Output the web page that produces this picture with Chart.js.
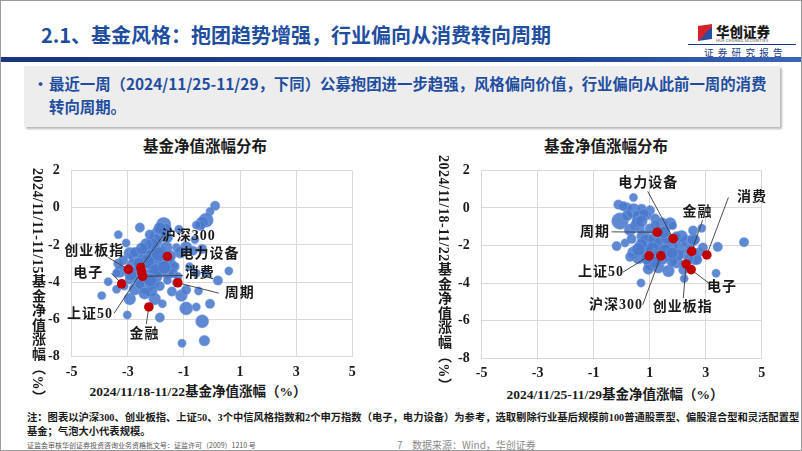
<!DOCTYPE html>
<html><head><meta charset="utf-8">
<script src="https://cdn.jsdelivr.net/npm/chart.js@4/dist/chart.umd.min.js"></script>
<style>
body{margin:0;width:802px;height:451px;overflow:hidden;background:#fff;font-family:"Noto Sans CJK SC",sans-serif;position:relative;}
.abs{position:absolute;white-space:nowrap;}
#frame{position:absolute;left:0;top:0;width:800px;height:449px;border:1px solid #9a9a9a;}
#title{left:41px;top:21px;font-size:20px;font-weight:700;color:#1f4e9f;line-height:28px;}
#band{left:1px;top:57px;width:800px;height:5px;background:linear-gradient(to right,#18357d,#1f4593 70%,#3a66b8);}
#box{left:24px;top:66px;width:756px;height:61px;background:#ededed;box-shadow:2px 2px 2px rgba(0,0,0,0.28);}
#bullet{left:49px;top:72px;font-size:15.4px;font-weight:700;color:#1f4e9f;line-height:23px;}
#dot{left:33px;top:72px;font-size:15px;font-weight:700;color:#1f4e9f;line-height:23px;}
.ctitle{font-family:"Noto Sans CJK SC";font-weight:700;font-size:15.5px;color:#1a1a1a;transform:translateX(-50%);line-height:20px;}
.xtitle{font-family:"Liberation Serif","Noto Sans CJK SC";font-weight:700;font-size:13.5px;color:#1a1a1a;transform:translateX(-50%);line-height:16px;}
.ytitle{font-family:"Liberation Serif","Noto Sans CJK SC";font-weight:700;font-size:14px;color:#1a1a1a;writing-mode:vertical-rl;transform:translateX(-50%);line-height:14px;letter-spacing:0.5px;}
#note{left:27px;top:411px;font-family:"Liberation Serif","Noto Sans CJK SC";font-weight:700;font-size:10.3px;color:#1a1a1a;line-height:14px;}
#lic{left:27px;top:441px;font-size:7px;color:#555;line-height:9px;}
#pg{left:397px;top:438px;font-size:10px;color:#8a8a8a;line-height:13px;}
#src{left:412px;top:438px;font-size:10px;color:#8a8a8a;line-height:13px;}
#logoicon{left:698px;top:25px;width:14px;height:15px;background:linear-gradient(135deg,#d8202a 0 55%,#2a4fa0 55% 100%);transform:skewY(-8deg);}
#logotxt{left:716px;top:22px;font-size:13.5px;font-weight:900;color:#1a1a1a;line-height:18px;}
#logosub{left:716px;top:38px;font-size:4px;color:#333;line-height:5px;letter-spacing:0.2px;}
#logoline{left:688px;top:44px;width:108px;height:1px;background:#1c3a82;}
#logorep{left:704px;top:46px;font-size:9.5px;color:#1c3a82;letter-spacing:4.3px;line-height:13px;font-family:"Noto Sans CJK SC";}
canvas{position:absolute;}
</style></head>
<body>
<div id="frame"></div>
<div class="abs" id="title">2.1、基金风格：抱团趋势增强，行业偏向从消费转向周期</div>
<div class="abs" id="logoicon"></div>
<div class="abs" id="logotxt">华创证券</div>
<div class="abs" id="logosub">HUA CHUANG SECURITIES</div>
<div class="abs" id="logoline"></div>
<div class="abs" id="logorep">证券研究报告</div>
<div class="abs" id="band"></div>
<div class="abs" id="box"></div>
<div class="abs" id="dot">•</div>
<div class="abs" id="bullet">最近一周（2024/11/25-11/29，下同）公募抱团进一步趋强，风格偏向价值，行业偏向从此前一周的消费<br>转向周期。</div>

<div class="abs ctitle" style="left:205px;top:135px;">基金净值涨幅分布</div>
<div class="abs ctitle" style="left:606px;top:135px;">基金净值涨幅分布</div>
<canvas id="c1" width="345" height="230" style="left:20px;top:150px;"></canvas>
<canvas id="c2" width="345" height="230" style="left:430px;top:150px;"></canvas>
<div class="abs xtitle" style="left:198px;top:384px;">2024/11/18-11/22基金净值涨幅（%）</div>
<div class="abs xtitle" style="left:615px;top:387px;">2024/11/25-11/29基金净值涨幅（%）</div>
<div class="abs ytitle" style="left:37px;top:168px;">2024/11/11-11/15基金净值涨幅（%）</div>
<div class="abs ytitle" style="left:443px;top:155px;">2024/11/18-11/22基金净值涨幅（%）</div>

<div class="abs" id="note">注：图表以沪深300、创业板指、上证50、3个中信风格指数和2个申万指数（电子，电力设备）为参考，选取剔除行业基后规模前100普通股票型、偏股混合型和灵活配置型<br>基金；气泡大小代表规模。</div>
<div class="abs" id="lic">证监会审核华创证券投资咨询业务资格批文号：证监许可（2009）1210 号</div>
<div class="abs" id="pg">7</div>
<div class="abs" id="src">数据来源：Wind，华创证券</div>

<script>
// ---------- DATA ----------
const xTicks = [-5, -3, -1, 1, 3, 5];
const yTicks = [-8, -6, -4, -2, 0, 2];
const indexNames = ['沪深300', '创业板指', '上证50', '消费', '周期', '金融', '电子', '电力设备'];

// Left chart: x = 11/18-11/22, y = 11/11-11/15
const leftIndexX = [-2.54, -2.98, -2.51, -2.47, -1.22, -2.25, -3.22, -1.59];
const leftIndexY = [-3.21, -3.31, -3.45, -3.69, -4.03, -5.33, -4.09, -2.62];
const leftFundX = [0.11,-0.07,-0.21,-0.35,-0.41,-0.56,-1.72,-1.66,-2.57,-1.18,-3.34,-1.89,-2.04,-3.06,-0.61,-0.92,-1.27,-1.13,-0.35,-2.93,-2.69,-2.28,-2.16,-1.86,-1.63,-1.45,-3.34,-3.28,-2.81,-2.10,-1.86,-1.57,-1.33,-0.80,-0.56,-0.21,0.60,0.21,-3.70,-3.40,-3.93,-2.93,-2.75,-2.34,-2.10,-2.04,-1.77,-3.02,-1.86,-1.43,-1.09,-0.92,-0.92,-0.56,-0.48,-0.07,-0.35,-0.27,-1.07,-1.39,-1.27,-2.75,-2.57,-2.34,-1.98,-1.80,-1.63,-2.10,-2.34,-2.46,-3.17,-3.40,-1.86,-2.16,-2.57,-1.59,-1.21,-1.86,-1.57,-2.22,-0.68,-2.93,-3.13,-2.75,-1.86,-2.10,-2.30,-2.00,-1.70,-2.20,-1.90,-2.50,-2.60,-1.50,-2.90,-2.40];
const leftFundY = [0.10,-0.21,-0.67,-0.79,-0.97,-0.93,-0.90,-1.19,-1.07,-1.16,-1.45,-1.45,-1.79,-1.90,-1.71,-2.14,-2.14,-2.40,-2.22,-2.45,-2.57,-2.22,-2.66,-2.40,-2.83,-3.09,-3.00,-3.43,-3.09,-3.17,-3.34,-3.52,-3.17,-3.17,-3.52,-3.52,-3.40,-3.91,-3.98,-4.38,-4.72,-4.90,-4.38,-4.29,-4.03,-4.90,-5.16,-5.76,-5.90,-4.50,-4.72,-4.41,-5.41,-5.33,-4.47,-5.16,-6.10,-7.14,-7.28,-3.52,-4.03,-3.52,-3.86,-3.69,-3.69,-2.92,-2.14,-1.97,-1.97,-2.83,-2.83,-3.52,-4.21,-4.47,-4.12,-3.90,-3.69,-1.10,-1.62,-1.45,-2.31,-3.86,-4.21,-2.40,-3.09,-2.74,-2.90,-3.40,-3.20,-3.90,-2.50,-2.20,-3.00,-2.60,-3.60,-4.60];
const leftFundSize = [4,3.5,6,5,4,3.5,6,5.5,4,3.5,3.5,7,6,3.5,3.5,5,3.5,5,4,5,7,6,7,5.5,6,5,4,5,5.5,5.5,5.5,5,4,3.5,3.5,3.5,3.5,4,3.5,3.5,3.5,5,5,5.5,5,5,3.5,3.5,4,4,5,4,5.5,3.5,3.5,4,5.5,4.5,3.5,4,3.5,5.5,5.5,6,5,5.5,5,5,5,5.5,4,3.5,4,5,4,3.5,3.5,5,4,4,4,4,3.5,4,5,5,6,6,5.5,5.5,6,5,5,5,5,5];

// Right chart: x = 11/25-11/29, y = 11/18-11/22
const rightIndexX = [1.40, 2.30, 0.98, 3.04, 1.27, 2.50, 2.48, 1.84];
const rightIndexY = [-2.55, -2.98, -2.55, -2.50, -1.29, -2.31, -3.28, -1.63];
const rightFundX = [0.42,-0.12,0.18,0.42,0.71,1.01,0.60,0.89,-0.06,1.19,1.43,1.73,1.55,1.82,0.48,0.30,0.65,0.77,0.89,1.19,1.43,1.73,2.08,2.32,2.62,2.86,2.14,-0.18,0.12,0.42,0.60,1.25,1.01,1.31,1.67,1.96,1.67,2.20,2.62,2.74,3.43,4.37,3.37,0.69,2.23,1.96,1.37,2.56,2.70,0.85,1.10,1.55,0.70,1.00,0.20,0.05,1.00,0.55,2.00,1.80,2.45,0.95,1.45,0.30,2.90,2.40,0.80,1.20,2.20,0.35,2.55,1.60,1.20,0.60,1.80,0.90,1.50,0.70];
const rightFundY = [0.56,0.18,0.04,-0.14,-0.04,-0.13,-0.47,-0.39,-0.70,-0.56,-0.82,-0.82,-1.16,-0.94,-0.90,-1.16,-1.08,-1.51,-1.86,-1.68,-1.94,-2.11,-2.03,-1.78,-1.68,-1.08,-1.51,-2.03,-1.86,-2.37,-2.63,-2.63,-2.98,-3.15,-3.35,-2.89,-2.46,-2.46,-2.72,-2.37,-2.07,-1.82,-3.47,-3.99,-3.76,-1.51,-1.34,-1.69,-2.76,-2.30,-2.20,-2.30,-1.95,-2.60,-0.40,0.10,-1.10,-0.75,-2.50,-2.85,-2.25,-3.25,-2.70,-2.60,-2.10,-2.70,-0.30,-0.90,-3.30,-1.65,-1.20,-1.60,-2.90,-2.20,-2.40,-2.70,-1.30,-0.70];
const rightFundSize = [3.5,4,4,6,4,4,5.5,4,7,4,5,5,4,3.5,4,5,4,5.5,7,6,7,6,5.5,5,4,3.5,5,4,3.5,5,5.5,5.5,5,5,5,5,5.5,4,5,4,4,4,3.5,3.5,3.5,4,4,5,4,6,6,6,5,5,4.5,4,4,4.5,5,4.5,4.5,4.5,5,4,4,4,4,4,4,4,4,5,5,5.5,5,5,5,5];

// Label anchors (data units): text centre (lx,ly), leader start (sx,sy)
const leftLabels = [
  {name:'沪深300', lx:-0.83, ly:-1.53, sx:-1.74, sy:-1.48},
  {name:'创业板指', lx:-4.20, ly:-2.34, sx:-3.72, sy:-2.66},
  {name:'电力设备', lx:-0.09, ly:-2.52, sx:null, sy:null},
  {name:'电子', lx:-4.41, ly:-3.55, sx:-3.58, sy:-3.52},
  {name:'消费', lx:-0.44, ly:-3.55, sx:-1.04, sy:-3.64},
  {name:'周期', lx:0.99, ly:-4.59, sx:0.24, sy:-4.59},
  {name:'上证50', lx:-4.35, ly:-5.72, sx:-3.49, sy:-5.67},
  {name:'金融', lx:-2.41, ly:-6.79, sx:-2.34, sy:-6.24}
];
const rightLabels = [
  {name:'电力设备', lx:0.95, ly:1.29, sx:0.93, sy:0.88},
  {name:'消费', lx:4.65, ly:0.56, sx:3.81, sy:0.56},
  {name:'金融', lx:2.71, ly:-0.21, sx:2.89, sy:-0.65},
  {name:'周期', lx:-0.95, ly:-1.30, sx:-0.36, sy:-1.27},
  {name:'上证50', lx:-0.74, ly:-3.42, sx:0.04, sy:-3.42},
  {name:'电子', lx:3.58, ly:-4.25, sx:3.13, sy:-4.02},
  {name:'沪深300', lx:-0.20, ly:-5.20, sx:0.75, sy:-5.15},
  {name:'创业板指', lx:2.18, ly:-5.27, sx:2.20, sy:-4.80}
];

// ---------- DRAWING ----------
const bubbleScale = 1.2;
const labelPlugin = {
  id: 'idxLabels',
  afterDatasetDraw(chart, args, opts) {
    if (args.index !== 0) return;
    const ctx = chart.ctx, xs = chart.scales.x, ys = chart.scales.y;
    const meta = chart.getDatasetMeta(1);
    ctx.save();
    ctx.strokeStyle = '#3a3a3a';
    ctx.lineWidth = 0.9;
    opts.items.forEach(it => {
      if (it.sx == null) return;
      const pt = meta.data[indexNames.indexOf(it.name)];
      ctx.beginPath();
      ctx.moveTo(xs.getPixelForValue(it.sx), ys.getPixelForValue(it.sy));
      ctx.lineTo(pt.x, pt.y);
      ctx.stroke();
    });
    ctx.restore();
  },
  afterDatasetsDraw(chart, args, opts) {
    const ctx = chart.ctx, xs = chart.scales.x, ys = chart.scales.y;
    ctx.save();
    ctx.font = "bold 14px 'Liberation Serif','Noto Sans CJK SC'";
    ctx.fillStyle = '#1a1a1a';
    ctx.textAlign = 'center';
    ctx.textBaseline = 'middle';
    try { ctx.letterSpacing = '1px'; } catch (e) {}
    opts.items.forEach(it => {
      ctx.fillText(it.name, xs.getPixelForValue(it.lx), ys.getPixelForValue(it.ly));
    });
    ctx.restore();
  }
};

function makeChart(id, fx, fy, fs, ix, iy, labels, padTop, padRight, xH) {
  const tickFont = {family: "'Liberation Serif'", weight: 'bold', size: 14};
  new Chart(document.getElementById(id), {
    type: 'bubble',
    data: {datasets: [
      {data: fx.map((v, i) => ({x: v, y: fy[i], r: fs[i] * bubbleScale})),
       backgroundColor: 'rgba(74,121,205,0.88)', borderColor: 'rgba(135,170,228,0.7)', borderWidth: 0.6, order: 2},
      {data: ix.map((v, i) => ({x: v, y: iy[i], r: 4.8})),
       backgroundColor: '#c00000', borderWidth: 0, order: 1}
    ]},
    options: {
      responsive: false, animation: false, events: [],
      layout: {padding: {left: 0, top: padTop, right: padRight, bottom: 0}},
      plugins: {legend: {display: false}, tooltip: {enabled: false}, idxLabels: {items: labels}},
      scales: {
        x: {type: 'linear', min: xTicks[0], max: xTicks[xTicks.length - 1],
            afterBuildTicks: s => { s.ticks = xTicks.map(v => ({value: v})); },
            ticks: {font: tickFont, color: '#1a1a1a', padding: 7},
            grid: {color: '#d9d9d9', drawTicks: false}, border: {color: '#d9d9d9'},
            afterFit: s => { s.height = xH; }},
        y: {type: 'linear', min: yTicks[0], max: yTicks[yTicks.length - 1],
            afterBuildTicks: s => { s.ticks = yTicks.map(v => ({value: v})); },
            ticks: {font: tickFont, color: '#1a1a1a', padding: 12},
            grid: {color: '#d9d9d9', drawTicks: false}, border: {color: '#d9d9d9'},
            afterFit: s => { s.width = 51.7; }}
      }
    },
    plugins: [labelPlugin]
  });
}
makeChart('c1', leftFundX, leftFundY, leftFundSize, leftIndexX, leftIndexY, leftLabels, 13.3, 12.7, 23.3);
makeChart('c2', rightFundX, rightFundY, rightFundSize, rightIndexX, rightIndexY, rightLabels, 15.7, 13.3, 21.7);
</script>
</body></html>
